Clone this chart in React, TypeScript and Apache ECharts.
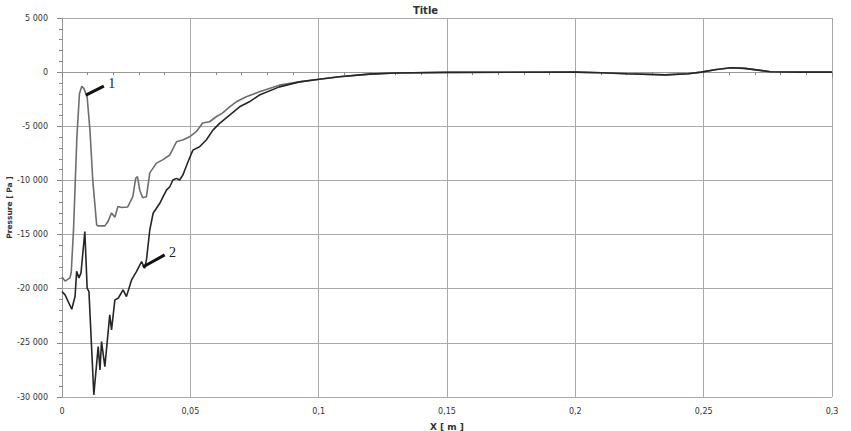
import React, { useEffect, useRef } from "react";
import * as echarts from "echarts";

// Curve 1 (grey) : [x (m), pressure (Pa)]
const curve1X = [0, 0.0012, 0.0031, 0.0036, 0.0045, 0.0058, 0.0068, 0.0077, 0.0085, 0.0098, 0.0109, 0.012, 0.0135, 0.014, 0.0167, 0.0179, 0.0193, 0.0206, 0.0218, 0.0232, 0.0256, 0.0276, 0.0287, 0.0294, 0.0303, 0.0314, 0.0329, 0.0342, 0.0368, 0.0392, 0.042, 0.0446, 0.047, 0.0497, 0.0523, 0.0548, 0.0575, 0.0601, 0.0625, 0.0653, 0.0679, 0.0718, 0.0769, 0.0847, 0.0925, 0.1002, 0.108, 0.1197, 0.13, 0.15, 0.2, 0.21, 0.22, 0.235, 0.244, 0.249, 0.255, 0.2607, 0.266, 0.276, 0.288, 0.3];
const curve1Y = [-18900, -19300, -19000, -18500, -14500, -6000, -2000, -1300, -1500, -2300, -5400, -10000, -14100, -14200, -14200, -13800, -13000, -13400, -12400, -12500, -12450, -11500, -9800, -9650, -10900, -11600, -11500, -9300, -8400, -8100, -7650, -6430, -6270, -5970, -5500, -4700, -4580, -4120, -3780, -3200, -2740, -2280, -1820, -1200, -900, -650, -430, -185, -80, -20, 0, -50, -150, -250, -150, 0, 250, 400, 350, 40, 0, 0];

// Curve 2 (black)
const curve2X = [0, 0.0012, 0.0038, 0.0051, 0.0057, 0.0066, 0.0074, 0.0089, 0.0098, 0.0105, 0.0124, 0.0141, 0.0148, 0.0154, 0.0167, 0.0186, 0.0193, 0.0206, 0.0219, 0.0238, 0.0251, 0.0271, 0.029, 0.031, 0.0322, 0.0329, 0.0342, 0.0355, 0.0368, 0.0381, 0.0394, 0.0407, 0.042, 0.0432, 0.0446, 0.0458, 0.0471, 0.0491, 0.051, 0.0536, 0.0562, 0.0588, 0.0614, 0.0653, 0.0692, 0.073, 0.0769, 0.0847, 0.0925, 0.1002, 0.108, 0.1197, 0.13, 0.15, 0.2, 0.21, 0.22, 0.235, 0.244, 0.249, 0.255, 0.2607, 0.266, 0.276, 0.288, 0.3];
const curve2Y = [-20270, -20570, -21900, -20700, -18400, -19000, -18540, -14730, -19950, -20270, -29800, -25340, -27500, -24880, -27190, -22420, -23800, -21030, -20880, -20110, -20730, -19190, -18420, -17500, -18110, -17340, -14580, -13030, -12570, -12110, -11500, -10890, -10580, -9960, -9810, -9960, -9500, -8270, -7200, -6890, -6270, -5350, -4730, -3970, -3200, -2740, -2120, -1360, -900, -650, -430, -185, -80, -20, 0, -50, -150, -250, -150, 0, 250, 400, 350, 40, 0, 0];

// Annotation leaders: [start, end] in data coordinates, and labels
const annotationLabels = ["1", "2"];
const annotationStart = [[0.0093, -2120], [0.0315, -17990]];
const annotationEnd = [[0.0163, -1290], [0.04, -16880]];

const xTicks = { min: 0, max: 0.3, interval: 0.05 };
const yTicks = { min: -30000, max: 5000, interval: 5000 };

const zip = (xs: number[], ys: number[]) => xs.map((x, i) => [x, ys[i]]);

const fmtY = (v: number) => {
  const s = Math.abs(v).toString().replace(/\B(?=(\d{3})+(?!\d))/g, " ");
  return (v < 0 ? "-" : "") + s;
};
const fmtX = (v: number) => {
  const r = Math.round(v * 1000) / 1000;
  return r.toString().replace(".", ",");
};

export default function App() {
  const ref = useRef<HTMLDivElement>(null);
  useEffect(() => {
    if (!ref.current) return;
    const chart = echarts.init(ref.current, undefined, { renderer: "svg" });
    const font = "DejaVu Sans";
    chart.setOption({
      animation: false,
      backgroundColor: "#ffffff",
      title: {
        text: "Title",
        left: "center",
        top: 0,
        textStyle: { fontFamily: font, fontSize: 10, fontWeight: "bold", color: "#333" },
      },
      grid: { left: 62, right: 19, top: 18, bottom: 34, containLabel: false, outerBoundsMode: "none" },
      xAxis: {
        type: "value",
        min: xTicks.min,
        max: xTicks.max,
        interval: xTicks.interval,
        offset: 4,
        name: "X [ m ]",
        nameLocation: "middle",
        nameGap: 21,
        nameMoveOverlap: false,
        nameTextStyle: { fontFamily: font, fontSize: 9, fontWeight: "bold", color: "#333" },
        axisLine: { show: true, lineStyle: { color: "#999", width: 1 } },
        axisTick: { show: true, length: 5, lineStyle: { color: "#888" } },
        minorTick: { show: true, splitNumber: 5, length: 3, lineStyle: { color: "#888" } },
        axisLabel: { fontFamily: font, fontSize: 8, color: "#333", margin: 6, formatter: fmtX },
        splitLine: { show: true, lineStyle: { color: "#aaa", width: 1 } },
      },
      yAxis: {
        type: "value",
        min: yTicks.min,
        max: yTicks.max,
        interval: yTicks.interval,
        offset: 5,
        name: "Pressure [ Pa ]",
        nameLocation: "middle",
        nameGap: 44,
        nameMoveOverlap: false,
        nameTextStyle: { fontFamily: font, fontSize: 7.5, fontWeight: "bold", color: "#333" },
        axisLine: { show: true, lineStyle: { color: "#999", width: 1 } },
        axisTick: { show: true, length: 5, lineStyle: { color: "#888" } },
        minorTick: { show: true, splitNumber: 5, length: 3, lineStyle: { color: "#888" } },
        axisLabel: { fontFamily: font, fontSize: 8, color: "#333", margin: 9, formatter: fmtY },
        splitLine: { show: true, lineStyle: { color: "#aaa", width: 1 } },
      },
      series: [
        {
          type: "line",
          data: zip(curve1X, curve1Y),
          showSymbol: false,
          symbol: "none",
          lineStyle: { color: "#6e6e6e", width: 1.6 },
          z: 2,
          markLine: {
            silent: true,
            symbol: "none",
            lineStyle: { color: "#111", width: 3, type: "solid" },
            label: {
              show: true,
              position: "end",
              distance: 5,
              fontFamily: "Liberation Serif",
              fontSize: 14,
              color: "#222",
            },
            data: annotationLabels.map((lab, i) => [
              { coord: annotationStart[i] },
              { coord: annotationEnd[i], label: { formatter: lab } },
            ]),
          },
        },
        {
          type: "line",
          data: zip(curve2X, curve2Y),
          showSymbol: false,
          symbol: "none",
          lineStyle: { color: "#262626", width: 1.6 },
          z: 3,
        },
      ],
    });
    return () => chart.dispose();
  }, []);
  return <div ref={ref} style={{ width: 851, height: 431, position: "absolute", left: 0, top: 0 }} />;
}
